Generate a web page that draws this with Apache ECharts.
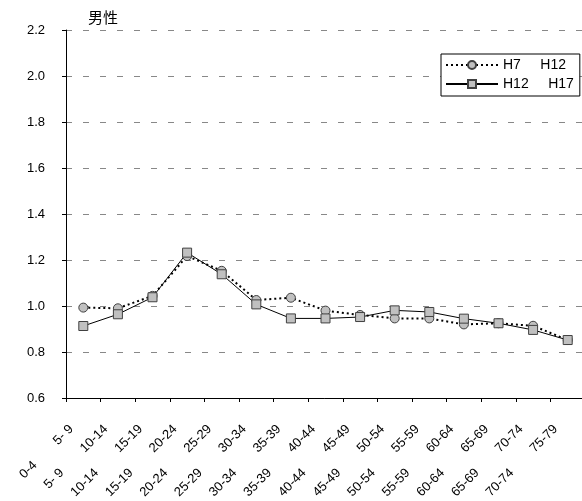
<!DOCTYPE html>
<html>
<head>
<meta charset="utf-8">
<script src="https://cdn.jsdelivr.net/npm/echarts@6/dist/echarts.min.js"></script>
<style>
html,body{margin:0;padding:0;background:#fff;}
#chart{width:582px;height:501px;}
</style>
</head>
<body>
<div id="chart"></div>
<script>
// Age groups (cohort moves from one group to the next)
const ageGroups = ["0-4","5- 9","10-14","15-19","20-24","25-29","30-34","35-39","40-44","45-49","50-54","55-59","60-64","65-69","70-74","75-79"];
const seriesNames = ["H7     H12", "H12     H17"];
const valuesH7H12  = [0.993, 0.990, 1.044, 1.217, 1.153, 1.026, 1.036, 0.980, 0.961, 0.946, 0.946, 0.920, 0.925, 0.914, 0.852];
const valuesH12H17 = [0.913, 0.964, 1.038, 1.232, 1.138, 1.007, 0.946, 0.946, 0.952, 0.981, 0.974, 0.945, 0.925, 0.896, 0.852];
const yTicks = { min: 0.6, max: 2.2, interval: 0.2 };
const titleText = "男性";

const categories = [];
for (let i = 0; i < ageGroups.length - 1; i++) {
  categories.push(ageGroups[i] + "        " + ageGroups[i + 1]);
}

const chart = echarts.init(document.getElementById('chart'), null, {renderer: 'canvas'});
const font = 'Liberation Sans, Arial, sans-serif';
chart.setOption({
  animation: false,
  backgroundColor: '#fff',
  textStyle: { fontFamily: font },
  title: {
    text: titleText,
    left: 83, top: 5,
    textStyle: { fontSize: 15, fontWeight: 'normal', color: '#000', fontFamily: 'Noto Sans CJK JP' }
  },
  legend: {
    orient: 'vertical',
    left: 441, top: 54,
    padding: [4, 6, 5, 4],
    itemGap: 5,
    itemWidth: 52, itemHeight: 10,
    borderColor: '#000', borderWidth: 1,
    backgroundColor: '#fff',
    textStyle: { fontSize: 14, color: '#000', fontFamily: font },
    data: seriesNames
  },
  grid: { left: 66, top: 30, width: 519, height: 368, containLabel: false, outerBoundsMode: 'none' },
  xAxis: {
    type: 'category',
    data: categories,
    boundaryGap: true,
    axisLine: { show: true, lineStyle: { color: '#000', width: 1 } },
    axisTick: { show: true, length: 4, lineStyle: { color: '#000' } },
    axisLabel: {
      interval: 0, rotate: 45, margin: 17, padding: [0, 17, 0, 0],
      fontSize: 13, color: '#000', fontFamily: font
    },
    splitLine: { show: false }
  },
  yAxis: {
    type: 'value',
    min: yTicks.min, max: yTicks.max, interval: yTicks.interval,
    axisLine: { show: true, lineStyle: { color: '#000', width: 1 } },
    axisTick: { show: true, length: 4, lineStyle: { color: '#000' } },
    axisLabel: {
      margin: 21, fontSize: 13, color: '#000', fontFamily: font,
      formatter: v => v.toFixed(1)
    },
    splitLine: { show: true, lineStyle: { color: '#888', type: [6, 11], width: 1 } }
  },
  series: [
    {
      name: seriesNames[0],
      type: 'line',
      data: valuesH7H12,
      symbol: 'circle',
      symbolSize: 9,
      showAllSymbol: true,
      itemStyle: { color: '#c0c0c0', borderColor: '#404040', borderWidth: 1 },
      lineStyle: { color: '#000', width: 2, type: [2, 3] }
    },
    {
      name: seriesNames[1],
      type: 'line',
      data: valuesH12H17,
      symbol: 'rect',
      symbolSize: 9,
      showAllSymbol: true,
      itemStyle: { color: '#c0c0c0', borderColor: '#404040', borderWidth: 1 },
      lineStyle: { color: '#000', width: 1, type: 'solid' }
    }
  ]
});
</script>
</body>
</html>
